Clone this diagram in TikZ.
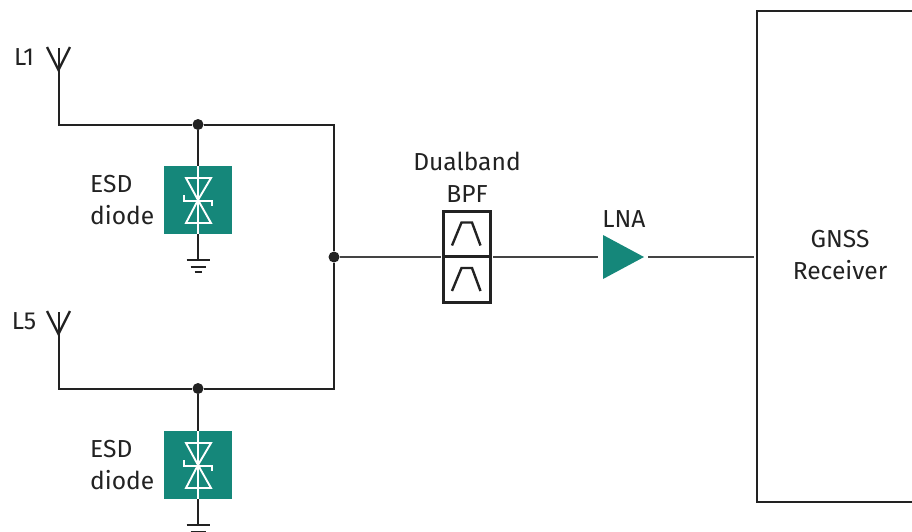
\documentclass[tikz,border=0pt]{standalone}
\usepackage{fontspec}
\setmainfont{Fira Sans}
\definecolor{teal1}{HTML}{15877A}
\definecolor{ink}{HTML}{222222}
\definecolor{soft}{HTML}{444444}
\tikzset{
  wire/.style={draw=ink,line width=2pt,line cap=butt},
  sigwire/.style={draw=soft,line width=2pt},
  lbl/.style={inner sep=0pt,text=ink,font=\fontsize{24.6pt}{32pt}\selectfont,align=center},
  esdbox/.style={fill=teal1,draw=none,minimum width=68pt,minimum height=68pt,inner sep=0pt},
  junction/.style={circle,fill=ink,draw=none,minimum size=11pt,inner sep=0pt},
  white line/.style={draw=white,line width=1.9pt,line join=miter},
  filterbox/.style={draw=ink,line width=3pt,minimum width=47pt,minimum height=45.5pt,inner sep=0pt},
  amp/.style={fill=teal1,draw=none},
  rxbox/.style={draw=ink,line width=2pt,minimum width=170pt,minimum height=491pt,inner sep=0pt},
  pics/antenna/.style={code={
    \draw[draw=ink,line width=2.4pt] (-11.5,-23) -- (0,0) -- (11.5,-23);
    \draw[wire] (0,-22) -- (0,0);
  }},
  pics/diode/.style={code={
    \draw[white line] (-12,-22) -- (13,-22) -- (0,0) -- cycle;
    \draw[white line] (-12,23) -- (13,23) -- (0,0) -- cycle;
    \draw[white line] (-14,-5) -- (-14,1) -- (14,1) -- (14,6);
    \draw[draw=white,line width=1.2pt] (0,-34) -- (0,34);
  }},
  pics/ground/.style={code={
    \draw[wire] (-11.5,0) -- (11.5,0);
    \draw[wire] (-7.5,6.5) -- (7.5,6.5);
    \draw[wire] (-3.5,12) -- (3.5,12);
  }},
  pics/band/.style={code={
    \draw[draw=ink,line width=2.4pt] (-14.5,11.5) -- (-5,-11.5) -- (5.5,-11.5) -- (14,11.5);
  }}
}
\begin{document}
\begin{tikzpicture}[x=1pt,y=-1pt]
\useasboundingbox (0,0) rectangle (912,531);
% ESD boxes
\node[esdbox] (d1) at (198,200) {};
\node[esdbox] (d2) at (198,465) {};
% junctions and corners
\node[junction] (j1) at (198,124.5) {};
\node[junction] (j2) at (198,388.5) {};
\node[junction] (j3) at (334,257) {};
\coordinate (c1) at (334,124.5);
\coordinate (c2) at (334,388.5);
\coordinate (a1) at (58.5,124.5);
\coordinate (a2) at (58.5,388.5);
\coordinate (t1) at (58.5,70);
\coordinate (t2) at (58.5,334);
\coordinate (g1) at (198,260);
\coordinate (g2) at (198,525);
% filter
\node[filterbox] (f1) at (466.5,234) {};
\node[filterbox] (f2) at (466.5,279.5) {};
\coordinate (fin) at (441,257);
\coordinate (fout) at (493,257);
% LNA
\coordinate (lnain) at (598,257);
\coordinate (lnaout) at (648,257);
\fill[amp] (603,235) -- (644,257) -- (603,279) -- cycle;
% receiver (runs past the right edge)
\node[rxbox] (rx) at (842,256.5) {};
\coordinate (rxin) at (754,257);
% wires
\draw[wire] (t1) -- (a1) -- (j1) -- (c1) -- (j3);
\draw[wire] (t2) -- (a2) -- (j2) -- (c2) -- (j3);
\draw[wire] (j1) -- (d1);
\draw[wire] (d1) -- (g1);
\draw[wire] (j2) -- (d2);
\draw[wire] (d2) -- (g2);
\draw[sigwire] (j3) -- (fin);
\draw[sigwire] (fout) -- (lnain);
\draw[sigwire] (lnaout) -- (rxin);
% symbols
\pic at (t1) {antenna};
\pic at (t2) {antenna};
\pic at (d1) {diode};
\pic at (d2) {diode};
\pic at (g1) {ground};
\pic at (g2) {ground};
\pic at (f1) {band};
\pic at (f2) {band};
% labels
\node[lbl] (l1) at (24,57) {L1};
\node[lbl] (l5) at (24,321) {L5};
\node[lbl,align=left,anchor=west] (e1) at (90,200.5) {ESD\\diode};
\node[lbl,align=left,anchor=west] (e2) at (90,465.5) {ESD\\diode};
\node[lbl] (bpf) at (467,177) {Dualband\\BPF};
\node[lbl] (lna) at (624,219) {LNA};
\node[lbl] (rxt) at (840,255.5) {GNSS\\Receiver};
\end{tikzpicture}
\end{document}
